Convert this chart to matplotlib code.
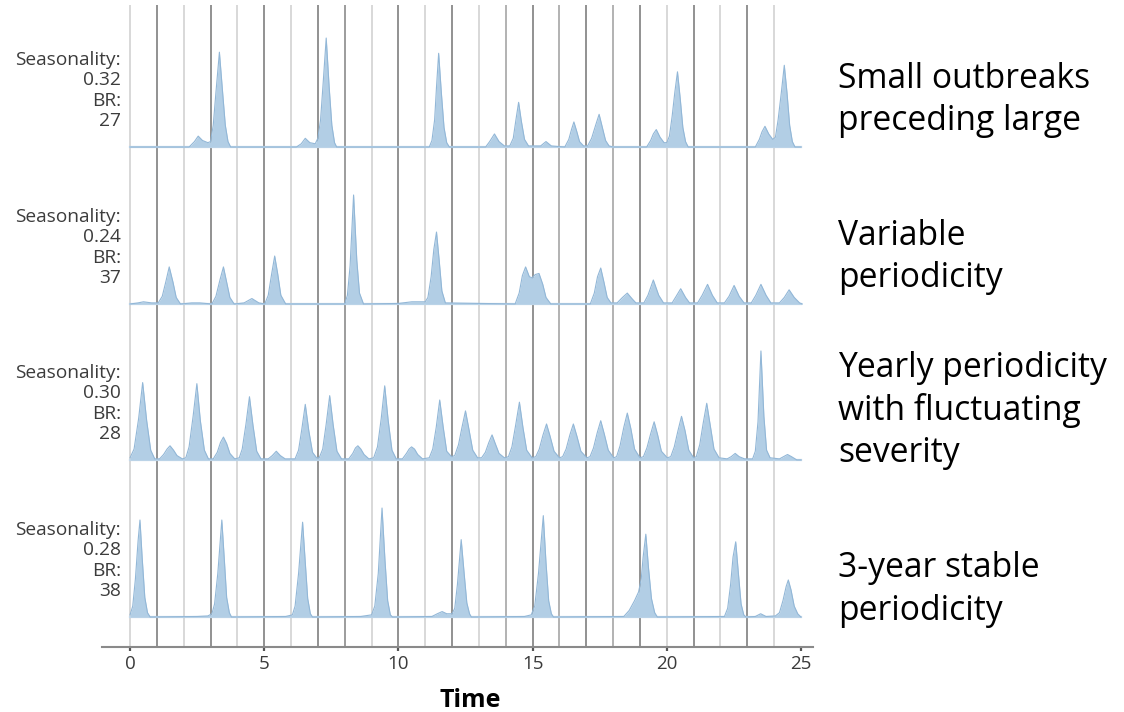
import matplotlib
matplotlib.use("Agg")
import matplotlib.pyplot as plt
import numpy as np

W, H = 1124, 712

# ---------------- data ----------------
row_seasonality = ["0.32", "0.24", "0.30", "0.28"]
row_br = ["27", "37", "28", "38"]
row_descriptions = [
    ["Small outbreaks", "preceding large"],
    ["Variable", "periodicity"],
    ["Yearly periodicity", "with fluctuating", "severity"],
    ["3-year stable", "periodicity"],
]

# relative incidence, row 1 (small outbreaks preceding large)
t1 = [0.0, 2.2, 2.4, 2.54, 2.7, 2.9, 3.0, 3.1, 3.2, 3.33, 3.45, 3.55, 3.65, 3.75,
      6.2, 6.38, 6.53, 6.7, 6.9, 7.0, 7.1, 7.2, 7.31, 7.42, 7.52, 7.62, 7.7,
      11.15, 11.25, 11.35, 11.42, 11.5, 11.6, 11.7, 11.8, 11.9,
      13.25, 13.4, 13.58, 13.75, 13.95,
      14.15, 14.28, 14.38, 14.48, 14.58, 14.7, 14.85,
      15.3, 15.5, 15.7,
      16.2, 16.35, 16.45, 16.54, 16.65, 16.75, 16.9,
      17.05, 17.2, 17.35, 17.48, 17.6, 17.72, 17.85, 18.0,
      19.25, 19.4, 19.5, 19.61, 19.75, 19.9, 20.0, 20.1, 20.2, 20.3, 20.4, 20.5, 20.6, 20.7, 20.8,
      23.3, 23.45, 23.55, 23.66, 23.8, 23.95, 24.05, 24.15, 24.27, 24.38, 24.48, 24.58, 24.68, 24.78, 25.0]
y1 = [0.0, 0.0, 0.05, 0.10, 0.06, 0.04, 0.05, 0.2, 0.5, 0.87, 0.5, 0.2, 0.05, 0.0,
      0.0, 0.03, 0.08, 0.04, 0.03, 0.08, 0.25, 0.6, 1.0, 0.55, 0.2, 0.04, 0.0,
      0.0, 0.06, 0.25, 0.55, 0.86, 0.5, 0.18, 0.04, 0.0,
      0.0, 0.05, 0.12, 0.05, 0.01,
      0.01, 0.08, 0.25, 0.41, 0.24, 0.07, 0.01,
      0.01, 0.05, 0.01,
      0.0, 0.07, 0.16, 0.23, 0.14, 0.05, 0.01,
      0.01, 0.08, 0.2, 0.30, 0.18, 0.06, 0.01, 0.0,
      0.0, 0.06, 0.12, 0.16, 0.09, 0.04, 0.04, 0.1, 0.28, 0.5, 0.69, 0.45, 0.18, 0.05, 0.0,
      0.0, 0.07, 0.14, 0.19, 0.12, 0.07, 0.09, 0.25, 0.5, 0.75, 0.5, 0.2, 0.05, 0.0, 0.0]

# row 2 (variable periodicity)
t2 = [0.0, 0.3, 0.5, 0.8, 1.05, 1.2, 1.33, 1.46, 1.6, 1.72, 1.88,
      2.3, 2.6, 3.05, 3.2, 3.35, 3.48, 3.6, 3.72, 3.88,
      4.25, 4.54, 4.8, 5.02, 5.15, 5.28, 5.39, 5.5, 5.62, 5.8,
      8.0, 8.1, 8.2, 8.33, 8.45, 8.55, 8.7,
      10.0, 10.5, 11.0, 11.1, 11.22, 11.32, 11.42, 11.52, 11.62, 11.75,
      14.35, 14.5, 14.62, 14.74, 14.88, 14.98, 15.1, 15.24, 15.38, 15.5, 15.68,
      17.15, 17.3, 17.42, 17.54, 17.66, 17.78, 17.92,
      18.15, 18.35, 18.53, 18.7, 18.85,
      19.15, 19.3, 19.5, 19.7, 19.88,
      20.2, 20.35, 20.52, 20.7, 20.85,
      21.15, 21.32, 21.52, 21.7, 21.88,
      22.15, 22.32, 22.51, 22.7, 22.88,
      23.15, 23.32, 23.51, 23.7, 23.88,
      24.2, 24.38, 24.56, 24.75, 24.95, 25.05]
y2 = [0.0, 0.01, 0.02, 0.01, 0.01, 0.07, 0.2, 0.34, 0.2, 0.06, 0.0,
      0.01, 0.01, 0.0, 0.07, 0.22, 0.34, 0.2, 0.06, 0.0,
      0.01, 0.05, 0.01, 0.0, 0.08, 0.28, 0.44, 0.28, 0.08, 0.0,
      0.0, 0.08, 0.35, 1.0, 0.4, 0.1, 0.0,
      0.005, 0.02, 0.02, 0.06, 0.25, 0.5, 0.66, 0.4, 0.12, 0.01,
      0.0, 0.1, 0.26, 0.34, 0.25, 0.24, 0.27, 0.28, 0.18, 0.06, 0.0,
      0.0, 0.1, 0.25, 0.33, 0.2, 0.06, 0.01,
      0.01, 0.06, 0.10, 0.05, 0.01,
      0.01, 0.08, 0.22, 0.08, 0.01,
      0.01, 0.07, 0.14, 0.06, 0.01,
      0.01, 0.08, 0.18, 0.08, 0.01,
      0.01, 0.07, 0.17, 0.07, 0.01,
      0.01, 0.08, 0.18, 0.08, 0.01,
      0.01, 0.06, 0.13, 0.06, 0.01, 0.0]

# row 3 (yearly periodicity with fluctuating severity)
t3 = [0.0, 0.15, 0.32, 0.47, 0.62, 0.77, 0.92,
      1.1, 1.25, 1.38, 1.49, 1.62, 1.75, 1.95,
      2.08, 2.2, 2.35, 2.49, 2.62, 2.77, 2.92,
      3.1, 3.25, 3.37, 3.48, 3.6, 3.72, 3.9,
      4.07, 4.18, 4.32, 4.45, 4.58, 4.72, 4.88,
      5.15, 5.3, 5.45, 5.6, 5.78,
      6.15, 6.28, 6.4, 6.53, 6.66, 6.8, 6.95,
      7.05, 7.18, 7.31, 7.44, 7.57, 7.71, 7.88,
      8.15, 8.3, 8.4, 8.49, 8.6, 8.72, 8.9,
      9.08, 9.22, 9.36, 9.49, 9.62, 9.76, 9.92,
      10.15, 10.3, 10.4, 10.49, 10.6, 10.72, 10.9,
      11.15, 11.28, 11.41, 11.54, 11.67, 11.8, 11.98,
      12.1, 12.24, 12.37, 12.50, 12.63, 12.77, 12.95,
      13.1, 13.24, 13.37, 13.49, 13.61, 13.75, 13.95,
      14.1, 14.23, 14.37, 14.51, 14.64, 14.78, 14.98,
      15.12, 15.25, 15.39, 15.52, 15.65, 15.8, 16.0,
      16.12, 16.25, 16.39, 16.52, 16.65, 16.8, 17.02,
      17.14, 17.27, 17.41, 17.54, 17.67, 17.82, 18.02,
      18.13, 18.26, 18.4, 18.53, 18.66, 18.8, 19.0,
      19.13, 19.26, 19.4, 19.53, 19.66, 19.8, 20.02,
      20.15, 20.28, 20.42, 20.55, 20.68, 20.82, 21.0,
      21.1, 21.23, 21.36, 21.49, 21.62, 21.76, 21.95,
      22.25, 22.4, 22.55, 22.7, 22.9,
      23.2, 23.3, 23.4, 23.51, 23.62, 23.72, 23.85,
      24.2, 24.35, 24.5, 24.65, 24.85, 25.0]
y3 = [0.02, 0.1, 0.38, 0.71, 0.36, 0.09, 0.01,
      0.01, 0.05, 0.1, 0.13, 0.09, 0.04, 0.01,
      0.02, 0.12, 0.4, 0.70, 0.36, 0.09, 0.01,
      0.01, 0.07, 0.16, 0.21, 0.15, 0.06, 0.01,
      0.02, 0.1, 0.33, 0.58, 0.32, 0.08, 0.01,
      0.01, 0.04, 0.08, 0.04, 0.01,
      0.01, 0.09, 0.28, 0.51, 0.27, 0.07, 0.02,
      0.02, 0.1, 0.33, 0.59, 0.32, 0.08, 0.01,
      0.01, 0.06, 0.11, 0.13, 0.1, 0.05, 0.01,
      0.02, 0.12, 0.38, 0.68, 0.36, 0.09, 0.01,
      0.01, 0.06, 0.1, 0.12, 0.1, 0.05, 0.01,
      0.02, 0.1, 0.3, 0.55, 0.3, 0.08, 0.03,
      0.04, 0.14, 0.3, 0.45, 0.28, 0.09, 0.02,
      0.02, 0.07, 0.16, 0.23, 0.15, 0.06, 0.02,
      0.03, 0.12, 0.32, 0.53, 0.3, 0.09, 0.02,
      0.03, 0.1, 0.23, 0.33, 0.22, 0.08, 0.02,
      0.03, 0.1, 0.23, 0.33, 0.22, 0.08, 0.02,
      0.03, 0.11, 0.25, 0.36, 0.24, 0.09, 0.02,
      0.03, 0.13, 0.3, 0.43, 0.29, 0.1, 0.02,
      0.03, 0.11, 0.24, 0.35, 0.23, 0.08, 0.02,
      0.03, 0.12, 0.27, 0.40, 0.27, 0.09, 0.02,
      0.03, 0.14, 0.34, 0.52, 0.32, 0.1, 0.02,
      0.01, 0.03, 0.06, 0.03, 0.01,
      0.01, 0.08, 0.35, 1.0, 0.4, 0.09, 0.02,
      0.01, 0.03, 0.05, 0.03, 0.0, 0.0]

# row 4 (3-year stable periodicity)
t4 = [0.0, 0.1, 0.2, 0.3, 0.37, 0.45, 0.55, 0.65, 0.75,
      2.5, 2.9, 3.05, 3.15, 3.27, 3.42, 3.52, 3.6, 3.7, 3.78,
      5.8, 6.05, 6.15, 6.28, 6.43, 6.53, 6.62, 6.72, 6.8,
      8.6, 9.0, 9.12, 9.25, 9.39, 9.5, 9.6, 9.7, 9.78,
      11.25, 11.45, 11.63, 11.8, 12.0, 12.1, 12.2, 12.34, 12.45, 12.55, 12.65, 12.72,
      14.7, 14.95, 15.08, 15.22, 15.40, 15.5, 15.6, 15.7, 15.78,
      18.4, 18.6, 18.8, 18.95, 19.05, 19.12, 19.22, 19.32, 19.43, 19.55, 19.65,
      22.15, 22.27, 22.38, 22.47, 22.57, 22.67, 22.77, 22.87, 22.95,
      23.3, 23.5, 23.7, 24.05, 24.2, 24.33, 24.45, 24.53, 24.63, 24.75, 24.88, 25.0]
y4 = [0.02, 0.1, 0.35, 0.7, 0.89, 0.55, 0.18, 0.04, 0.0,
      0.005, 0.01, 0.03, 0.12, 0.4, 0.89, 0.5, 0.18, 0.04, 0.0,
      0.005, 0.02, 0.1, 0.4, 0.87, 0.5, 0.17, 0.03, 0.0,
      0.005, 0.02, 0.1, 0.4, 1.0, 0.52, 0.15, 0.02, 0.0,
      0.005, 0.03, 0.05, 0.03, 0.03, 0.08, 0.3, 0.71, 0.4, 0.13, 0.03, 0.0,
      0.005, 0.02, 0.1, 0.4, 0.93, 0.5, 0.15, 0.03, 0.0,
      0.005, 0.06, 0.15, 0.23, 0.35, 0.55, 0.76, 0.45, 0.17, 0.04, 0.0,
      0.005, 0.08, 0.3, 0.55, 0.69, 0.4, 0.12, 0.02, 0.0,
      0.005, 0.03, 0.005, 0.01, 0.04, 0.15, 0.28, 0.34, 0.25, 0.1, 0.03, 0.0]

row_times = [t1, t2, t3, t4]
row_values = [y1, y2, y3, y4]

xticks = [0, 5, 10, 15, 20, 25]
years = list(range(0, 25))

# ---------------- style / layout ----------------
year_line_color = {1: "#929292", 3: "#929292", 5: "#929292", 7: "#929292", 8: "#9c9c9c",
                   10: "#929292", 12: "#929292", 14: "#b2b2b2", 15: "#929292",
                   16: "#b2b2b2", 17: "#929292", 18: "#b2b2b2", 19: "#929292",
                   21: "#929292", 23: "#929292"}
light_line = "#d8d8d8"
fill_color = "#b2cee5"
edge_color = "#92b7d7"
base_color = "#c3d8ea"

row_base = [4.587, 3.147, 1.716, 0.275]   # data-y baselines of the rows
row_base_px = [147, 304, 460, 617]

ui_font = ["Open Sans", "DejaVu Sans"]
note_font = ["Open Sans", "DejaVu Sans"]

fig = plt.figure(figsize=(W / 100, H / 100), dpi=100)
fig.patch.set_facecolor("white")

ax_l, ax_r, ax_t, ax_b = 102, 813, 5, 647
ax = fig.add_axes([ax_l / W, 1 - ax_b / H, (ax_r - ax_l) / W, (ax_b - ax_t) / H])
ax.set_xlim(-1.045, 25.45)
ax.set_ylim(0, 5.89)

for yr in years:
    ax.axvline(yr, color=year_line_color.get(yr, light_line), lw=1.4, zorder=1)

for base, tt, yy in zip(row_base, row_times, row_values):
    tt = np.asarray(tt)
    yy = np.asarray(yy)
    ax.plot([0, 25], [base, base], color=base_color, lw=1.6, zorder=2)
    ax.fill_between(tt, base, base + yy, color=fill_color, lw=0, zorder=3)
    ax.plot(tt, base + yy, color=edge_color, lw=0.8, zorder=4)

for s in ["top", "right", "left"]:
    ax.spines[s].set_visible(False)
ax.spines["bottom"].set_color("#8a8a8a")
ax.spines["bottom"].set_linewidth(1.5)
ax.set_yticks([])
ax.set_xticks(xticks)
ax.set_xticklabels([str(v) for v in xticks])
ax.tick_params(axis="x", length=3, width=1.6, color="#555555", pad=3,
               labelsize=13.5, labelcolor="#3a3a3a")
for lab in ax.get_xticklabels():
    lab.set_family(ui_font)

def fx(px):
    return px / W

def fy(py):
    return 1 - py / H

# left labels
label_offsets = [-87, -67, -46, -26]
for i, b in enumerate(row_base_px):
    lines = ["Seasonality:", row_seasonality[i], "BR:", row_br[i]]
    for txt, off in zip(lines, label_offsets):
        fig.text(fx(121), fy(b + off), txt, ha="right", va="center",
                 fontsize=13.8, color="#3c3c3c", family=ui_font)

# right descriptions (baseline of first line, line step)
desc_first_baseline = [88, 245, 377, 577]
for i, lines in enumerate(row_descriptions):
    for j, txt in enumerate(lines):
        fig.text(fx(838), fy(desc_first_baseline[i] + 42.5 * j), txt, ha="left",
                 va="baseline", fontsize=24.2, color="black", family=note_font)

fig.text(fx(470), fy(707), "Time", ha="center", va="baseline", fontsize=18,
         fontweight="bold", color="black", family=note_font)

fig.savefig("out.png", dpi=100, facecolor="white")
